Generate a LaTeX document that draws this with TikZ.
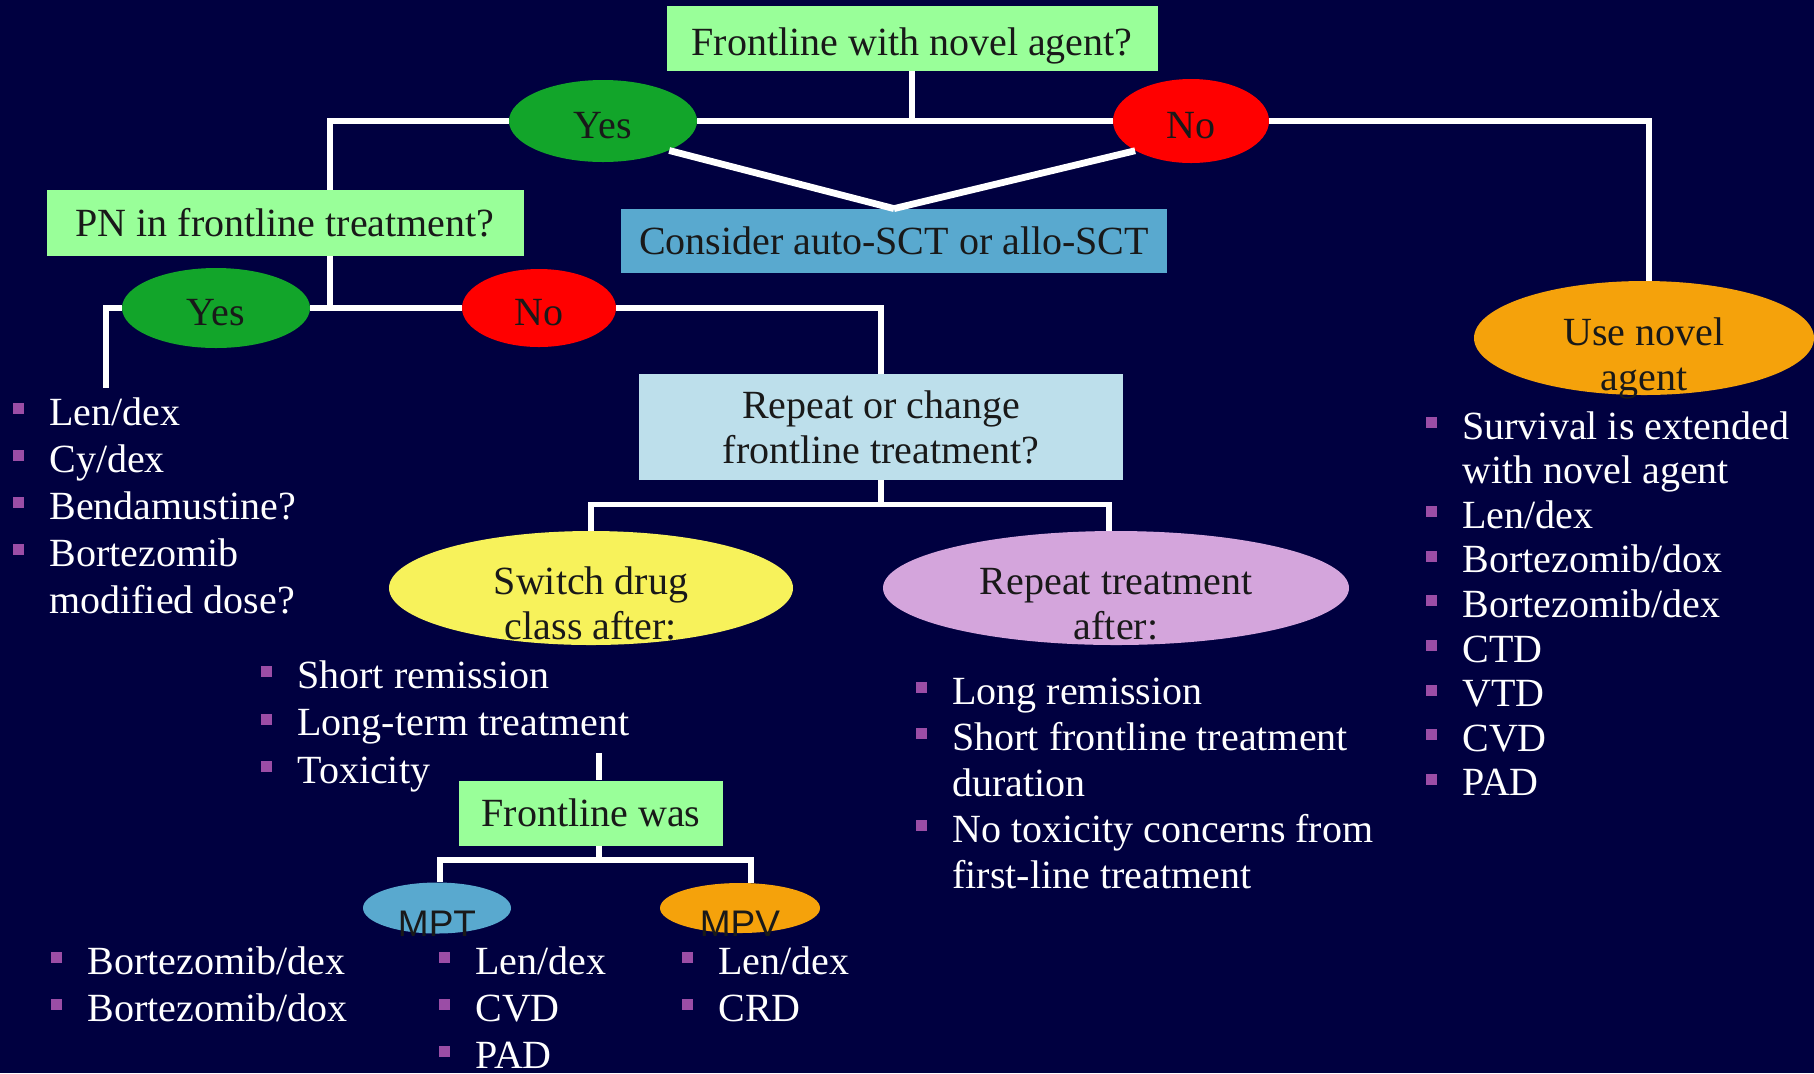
\documentclass[tikz,border=0pt]{standalone}
\usepackage{fontspec}
\setmainfont{Liberation Serif}
\newfontfamily\arialfont{Liberation Sans}
\usetikzlibrary{shapes.geometric}
\definecolor{slidebg}{HTML}{000040}
\definecolor{boxgreen}{HTML}{99FF99}
\definecolor{yesgreen}{HTML}{12A52A}
\definecolor{nored}{HTML}{FF0000}
\definecolor{sctblue}{HTML}{59A9CF}
\definecolor{paleblue}{HTML}{BDDFEB}
\definecolor{lemon}{HTML}{F7F25B}
\definecolor{lilac}{HTML}{D4A5DC}
\definecolor{amber}{HTML}{F5A20B}
\definecolor{bulletpurple}{HTML}{9B4DA6}
\newcommand{\bl}{\makebox[18pt][l]{\textcolor{bulletpurple}{\rule[5.5pt]{5.5pt}{5.5pt}}}}
\tikzset{question/.style={rectangle,minimum height=32.5pt,inner sep=0pt,align=center,text=black!90,font=\fontsize{20}{22.5}\selectfont},oneline/.style={text height=15pt,text depth=2pt},answer/.style={ellipse,inner sep=0pt,text height=17pt,text depth=0pt,text=black!90,font=\fontsize{20}{22.5}\selectfont},ovaltext/.style={inner sep=0pt,align=center,text=black!90,font=\fontsize{20}{22.5}\selectfont},branch/.style={white,line width=2.8pt},bullets/.style={anchor=base west,inner sep=0pt,text=white,font=\fontsize{20}{23.5}\selectfont}}

\begin{document}
\begin{tikzpicture}[x=0.5pt,y=-0.5pt]
\useasboundingbox (0,0) rectangle (1814,1073);
\fill[slidebg] (0,0) rectangle (1814,1073);
% decision boxes and answers
\node[question,fill=boxgreen,minimum width=245.5pt,text height=19pt,text depth=2pt] (q0) at (912,38) {Frontline with novel agent?};
\node[answer,fill=yesgreen,minimum width=94pt,minimum height=41pt] (y1) at (603,121) {Yes};
\node[answer,fill=nored,minimum width=78pt,minimum height=42pt] (n1) at (1191,121) {No};
\node[question,oneline,fill=sctblue,minimum width=273pt,minimum height=32pt] (sct) at (894,241) {Consider auto-SCT or allo-SCT};
\node[question,oneline,fill=boxgreen,minimum width=238.5pt,minimum height=33pt] (pn) at (285,223) {PN in frontline treatment?};
\node[answer,fill=yesgreen,minimum width=94pt,minimum height=40pt] (y2) at (216,308) {Yes};
\node[answer,fill=nored,minimum width=77pt,minimum height=39pt] (n2) at (539,308) {No};
\node[question,fill=paleblue,minimum width=242pt,minimum height=53pt] (rep) at (881,427) {Repeat or change\\frontline treatment?};
\node[answer,fill=lemon,minimum width=202pt,minimum height=57pt] (sw) at (591,588) {};
\node[answer,fill=lilac,minimum width=233pt,minimum height=57pt] (rt) at (1116,588) {};
\node[answer,fill=amber,minimum width=170pt,minimum height=57pt] (nov) at (1644,338) {};
\node[question,oneline,fill=boxgreen,minimum width=132pt] (fw) at (591,813) {Frontline was};
\node[answer,fill=sctblue,minimum width=74pt,minimum height=25.5pt] (mpt) at (437,908) {};
\node[answer,fill=amber,minimum width=80pt,minimum height=25pt] (mpv) at (740,908) {};
% oval texts sit low and spill over the rim
\node[ovaltext] (sw-t) at ([yshift=-7.5pt]sw.center) {Switch drug\\class after:};
\node[ovaltext] (rt-t) at ([yshift=-8pt]rt.center) {Repeat treatment\\after:};
\node[ovaltext] (nov-t) at ([yshift=-10.3pt]nov.center) {Use novel\\agent};
\node[ovaltext,font=\arialfont\fontsize{18.5}{20}\selectfont] (mpt-t) at ([yshift=-7.75pt]mpt.center) {MPT};
\node[ovaltext,font=\arialfont\fontsize{18.5}{20}\selectfont] (mpv-t) at ([yshift=-7.75pt]mpv.center) {MPV};
% connectors
\coordinate (lenhook) at (106,388);
\coordinate (fwtop) at (599,753);
\draw[branch] (y1) -- (n1);
\draw[branch] (q0.south) -- (q0.south |- y1);
\draw[branch,line width=3.4pt] (y1.-24) -- (sct.north);
\draw[branch,line width=3.4pt] (n1.-152) -- (sct.north);
\draw[branch] (y1.west) -| ([xshift=22.5pt]pn.north);
\draw[branch] (n1.east) -| ([xshift=2.5pt]nov.north);
\draw[branch] (y2) -- (n2);
\draw[branch] ([xshift=22.5pt]pn.south) -- ([xshift=22.5pt]pn.south |- y2);
\draw[branch] (y2.west) -| (lenhook);
\draw[branch] (n2.east) -| (rep.north);
\draw[branch] (rep.south) -- ++(0,26);
\draw[branch] (sw.north) -- ++(0,-26) -| ([xshift=-3.5pt]rt.north);
\draw[branch] (fwtop) -- ([xshift=4pt]fw.north);
\draw[branch] ([xshift=4pt]fw.south) -- ++(0,16);
\draw[branch] ([xshift=1.5pt]mpt.north) -- ++(0,-22) -| ([xshift=5.5pt]mpv.north);
% bullet lists
\node[bullets] (pnyes) at (13,425) {\begin{tabular}[t]{@{}l@{}l@{}}\bl&Len/dex\\\bl&Cy/dex\\\bl&Bendamustine?\\\bl&Bortezomib\\&modified dose?\end{tabular}};
\node[bullets,font=\fontsize{20}{23.75}\selectfont] (swlist) at (261,688) {\begin{tabular}[t]{@{}l@{}l@{}}\bl&Short remission\\\bl&Long-term treatment\\\bl&Toxicity\end{tabular}};
\node[bullets,font=\fontsize{20}{23}\selectfont] (rtlist) at (916,704) {\begin{tabular}[t]{@{}l@{}l@{}}\bl&Long remission\\\bl&Short frontline treatment\\&duration\\\bl&No toxicity concerns from\\&first-line treatment\end{tabular}};
\node[bullets,font=\fontsize{20}{22.3}\selectfont] (novlist) at (1426,439) {\begin{tabular}[t]{@{}l@{}l@{}}\bl&Survival is extended\\&with novel agent\\\bl&Len/dex\\\bl&Bortezomib/dox\\\bl&Bortezomib/dex\\\bl&CTD\\\bl&VTD\\\bl&CVD\\\bl&PAD\end{tabular}};
\node[bullets] (fwlist) at (51,974) {\begin{tabular}[t]{@{}l@{}l@{}}\bl&Bortezomib/dex\\\bl&Bortezomib/dox\end{tabular}};
\node[bullets] (mptlist) at (439,974) {\begin{tabular}[t]{@{}l@{}l@{}}\bl&Len/dex\\\bl&CVD\\\bl&PAD\end{tabular}};
\node[bullets] (mpvlist) at (682,974) {\begin{tabular}[t]{@{}l@{}l@{}}\bl&Len/dex\\\bl&CRD\end{tabular}};
\end{tikzpicture}
\end{document}
